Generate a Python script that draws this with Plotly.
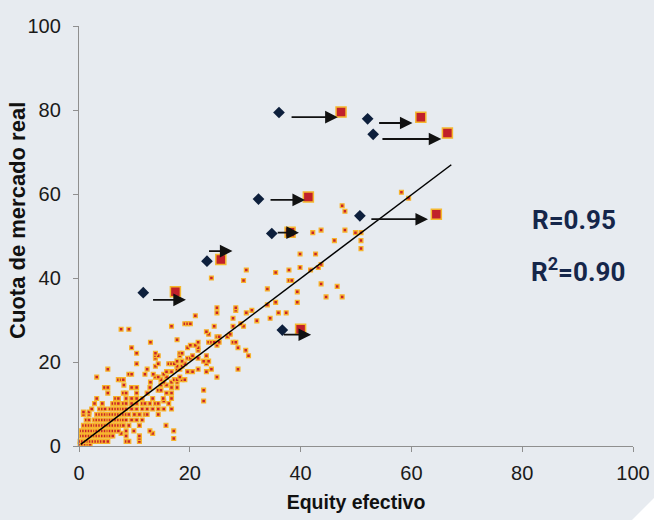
import plotly.graph_objects as go

# ---------------- data ----------------
# small points: market share level (y) -> list of effective equity values (x)
share_levels = [0.4, 1.1, 1.8, 2.4, 3.0, 3.6, 4.9, 6.2, 7.5, 8.1, 8.8, 10.1, 10.7, 11.3,
                12.6, 13.3, 13.9, 14.5, 15.2, 15.8, 16.4, 17.1, 17.7, 18.3, 19.0, 19.6,
                20.2, 20.9, 21.5, 22.1, 22.8, 23.4, 24.0, 24.7, 25.3, 26.0, 26.6, 27.2,
                27.8, 28.5, 29.1, 29.8, 30.4, 31.0, 31.7, 32.3, 32.9, 33.6, 34.2, 35.5,
                36.7, 37.4, 38.0, 38.6, 39.4, 40.0, 41.3, 41.9, 42.5, 43.2, 45.7, 47.0,
                48.9, 50.8, 51.4, 55.9, 57.2, 59.0, 60.4]
equity_by_level = [
    [0.2, 0.6, 1.1, 1.6, 2.0],
    [0.2, 0.6, 1.1, 1.6, 2.0, 2.5, 3.0, 3.5, 4.0, 4.5, 5.2, 8.5, 9.0, 10.9],
    [10.9, 17.1],
    [0.4, 0.8, 1.3, 1.8, 2.3, 2.8, 3.2, 3.7, 4.2, 4.7, 5.2, 5.6, 6.1, 8.5, 10.9],
    [7.6, 13.3],
    [0.4, 0.8, 1.3, 1.8, 2.3, 2.8, 3.2, 3.7, 4.2, 4.7, 5.2, 5.6, 6.1, 6.6, 7.1, 8.5, 9.9, 12.8, 17.1],
    [0.8, 1.3, 1.8, 2.3, 2.8, 3.2, 3.7, 4.2, 4.7, 5.2, 5.6, 6.1, 6.6, 7.1, 7.6, 8.0, 9.0, 10.9, 15.7],
    [1.3, 1.8, 2.8, 3.2, 3.7, 4.2, 4.7, 5.2, 5.6, 6.1, 6.6, 7.1, 7.6, 8.0, 8.5, 9.5, 10.4, 11.4],
    [0.8, 1.8, 3.2, 3.7, 4.2, 4.7, 5.2, 5.6, 6.1, 6.6, 7.1, 7.6, 8.0, 8.5, 9.0, 10.0, 10.9, 11.9, 12.3, 14.3],
    [0.8, 1.8],
    [2.3, 3.7, 4.2, 4.7, 5.6, 6.1, 6.6, 7.1, 7.6, 8.0, 8.5, 9.5, 10.4, 11.4, 12.3, 13.3, 14.3, 15.3, 16.7],
    [2.8, 4.2, 6.1, 6.6, 7.1, 8.0, 8.5, 9.5, 10.4, 11.4, 11.9, 12.8, 13.8, 14.3, 16.2],
    [15.3, 22.5],
    [3.2, 6.6, 7.1, 8.5, 9.5, 10.4, 11.4, 13.3, 15.2, 16.7],
    [5.2, 8.0, 8.5, 10.4, 12.3, 15.8, 16.7],
    [14.3, 14.8, 22.5],
    [4.6, 5.2, 9.5, 10.4, 12.8, 16.7, 17.7],
    [8.1, 14.8, 15.8],
    [12.9, 15.3, 16.7, 17.7],
    [7.1, 7.6, 8.0, 14.8, 17.2, 17.7, 18.6, 19.1],
    [3.2, 13.8, 14.3, 15.8, 18.2, 24.9],
    [9.0, 9.5, 11.9, 13.4, 15.3],
    [15.8, 16.7, 19.6, 20.5, 23.0],
    [5.2, 12.3, 17.7, 18.2, 21.5, 23.9, 28.7],
    [13.8, 17.7, 18.6],
    [10.4, 14.3, 16.2, 16.7, 17.2, 19.1, 23.0],
    [17.7, 18.6, 22.5, 23.4],
    [13.8, 19.6, 20.1, 21.5],
    [13.8, 14.3, 18.2, 20.5, 23.0, 30.6],
    [10.4, 13.8, 18.2, 18.6],
    [21.5, 30.1],
    [9.5, 19.6, 21.5, 28.7],
    [20.1, 21.0, 24.9],
    [12.9, 21.5, 23.4, 23.9, 24.4, 25.3, 27.8, 28.3],
    [17.7],
    [24.9, 25.3, 26.8],
    [23.4, 27.3],
    [23.0],
    [7.6, 9.0],
    [16.7, 24.4, 27.8, 29.7],
    [19.1, 19.6, 20.1, 29.2],
    [32.1],
    [27.8, 34.5],
    [21.0],
    [24.9, 30.2, 36.0, 37.4],
    [28.3, 31.2],
    [24.9, 28.3],
    [34.0],
    [35.5, 39.4],
    [44.6, 47.5],
    [39.4],
    [34.0],
    [46.6],
    [43.7],
    [29.7, 37.9, 38.4],
    [23.9],
    [35.5],
    [30.2, 37.9, 41.8],
    [39.9, 43.2],
    [43.7],
    [39.9, 42.7],
    [50.9],
    [46.1, 50.9],
    [42.2, 49.9, 50.9],
    [43.7, 48.0],
    [48.0],
    [47.5],
    [59.5],
    [58.2],
]

# highlighted cases: before (diamond) and after (square)
diamond_equity = [36.1, 52.1, 53.1, 32.4, 34.8, 23.1, 11.6, 36.7, 50.7]
diamond_share = [79.4, 77.9, 74.2, 58.8, 50.6, 44.0, 36.5, 27.6, 54.8]
square_equity = [47.3, 61.7, 66.5, 41.4, 38.1, 25.6, 17.4, 40.0, 64.5]
square_share = [79.5, 78.3, 74.5, 59.3, 50.9, 44.4, 36.7, 27.8, 55.2]
arrow_from_equity = [38.1, 53.9, 54.5, 34.3, 35.6, 23.2, 13.1, 36.7, 52.5]
arrow_to_equity = [46.7, 60.2, 65.4, 40.8, 39.7, 27.7, 19.3, 41.9, 63.0]
arrow_share = [78.3, 76.9, 73.1, 58.6, 50.8, 46.4, 34.8, 26.5, 54.0]

# fitted line
fit_slope = 0.995
fit_intercept = 0.1
fit_equity_range = [0.3, 67.2]

x_title = "<b>Equity efectivo</b>"
y_title = "<b>Cuota de mercado real</b>"
r_label = "R=0.95"
r2_label = "R<sup>2</sup>=0.90"
axis_ticks = [0, 20, 40, 60, 80, 100]

# ---------------- figure ----------------
BG = "#e7ebf0"
pts_x, pts_y = [], []
for lvl, eqs in zip(share_levels, equity_by_level):
    for e in eqs:
        pts_x.append(e)
        pts_y.append(lvl)

fig = go.Figure()
fig.add_trace(go.Scatter(
    x=pts_x, y=pts_y, mode="markers", cliponaxis=False,
    marker=dict(symbol="square", size=3.8, color="#c8232b",
                line=dict(color="#f7b42c", width=1.3)),
    hoverinfo="skip"))
fig.add_trace(go.Scatter(
    x=fit_equity_range, y=[fit_intercept + fit_slope * v for v in fit_equity_range],
    mode="lines", line=dict(color="#000000", width=1.5), hoverinfo="skip"))
fig.add_trace(go.Scatter(
    x=diamond_equity, y=diamond_share, mode="markers",
    marker=dict(symbol="diamond", size=9, color="#0d1f3c")))
fig.add_trace(go.Scatter(
    x=square_equity, y=square_share, mode="markers",
    marker=dict(symbol="square", size=10, color="#c1202a",
                line=dict(color="#f5b82e", width=1.5))))

for x0, x1, yv in zip(arrow_from_equity, arrow_to_equity, arrow_share):
    fig.add_annotation(x=x1, y=yv, ax=x0, ay=yv, xref="x", yref="y",
                       axref="x", ayref="y", text="", showarrow=True,
                       arrowhead=2, arrowsize=1.4, arrowwidth=1.8,
                       arrowcolor="#111111", standoff=0)

fig.add_annotation(x=0.8935, y=0.538, xref="paper", yref="paper", text=r_label,
                   xanchor="center", yanchor="middle", showarrow=False,
                   font=dict(family="Roboto", size=26, color="#15264a", weight="bold"))
fig.add_annotation(x=0.9007, y=0.419, xref="paper", yref="paper", text=r2_label,
                   xanchor="center", yanchor="middle", showarrow=False,
                   font=dict(family="Roboto", size=26, color="#15264a", weight="bold"))

# y-axis title placed as rotated text
fig.add_annotation(x=-0.110, y=0.536, xref="paper", yref="paper", text=y_title,
                   textangle=-90, xanchor="center", yanchor="middle", showarrow=False,
                   font=dict(size=22, color="#111111"))

# white cut corner (bottom right)
fig.add_shape(type="path", xref="paper", yref="paper",
              path="M 0.9585 -0.2286 L 1.0776 -0.0714 L 1.0776 -0.2286 Z",
              fillcolor="#ffffff", line=dict(width=0), layer="above")

axis_common = dict(range=[0, 100], tickvals=axis_ticks, showline=True, automargin=False,
                   linecolor="#8f8f8f", linewidth=1.3, ticks="outside", ticklen=5,
                   tickcolor="#8f8f8f", tickwidth=1.3, showgrid=False, zeroline=False,
                   tickfont=dict(size=20, color="#1a1a1a"))
fig.update_xaxes(**axis_common, ticklabelstandoff=4,
                 title=dict(text=x_title, font=dict(size=19.5, color="#111111"), standoff=12))
fig.update_yaxes(**axis_common, ticklabelstandoff=8)

fig.update_layout(width=654, height=520, showlegend=False,
                  margin=dict(l=79, r=21, t=26, b=74, pad=0),
                  paper_bgcolor=BG, plot_bgcolor=BG,
                  font=dict(family="Liberation Sans, Arial, sans-serif", color="#1a1a1a"))

fig.write_html("out.html", config={"displayModeBar": False},
               post_script="document.body.style.margin='0';document.body.style.background='#e7ebf0';")
